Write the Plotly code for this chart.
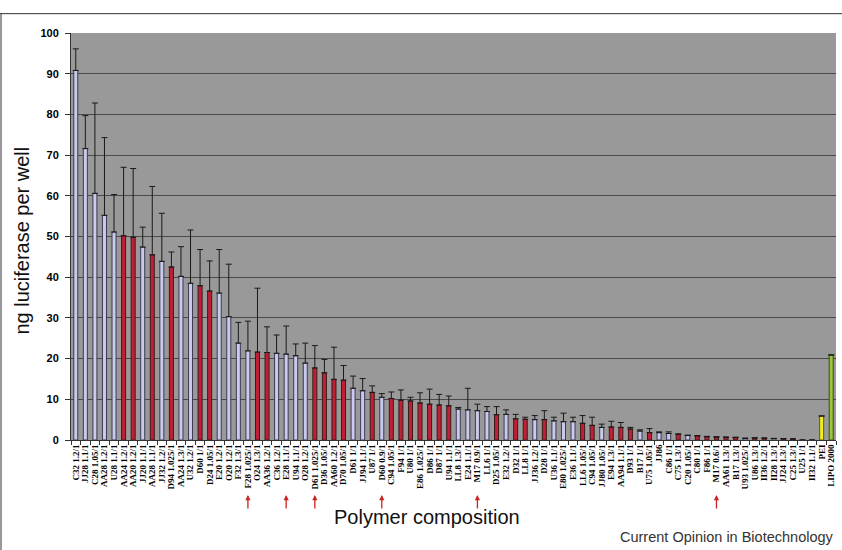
import plotly.graph_objects as go

labels = [
    "C32 1.2/1", "JJ28 1.1/1", "C28 1.05/1", "AA28 1.2/1", "U28 1.1/1",
    "AA24 1.2/1", "AA20 1.2/1", "JJ20 1.1/1", "AA28 1.1/1", "JJ32 1.2/1",
    "D94 1.025/1", "AA24 1.3/1", "U32 1.2/1", "D60 1/1", "D24 1.05/1",
    "E20 1.2/1", "O20 1.2/1", "F32 1.3/1", "F28 1.025/1", "O24 1.3/1",
    "AA36 1.2/1", "C36 1.2/1", "E28 1.1/1", "U94 1.1/1", "O28 1.2/1",
    "D61 1.025/1", "D36 1.05/1", "AA60 1.2/1", "D70 1.05/1", "D61 1/1",
    "JJ94 1.1/1", "U87 1/1", "D60 0.9/1", "C94 1.05/1", "F94 1/1",
    "U80 1/1", "E86 1.025/1", "D86 1/1", "D87 1/1", "U94 1.1/1",
    "LL8 1.3/1", "E24 1.1/1", "M17 0.9/1", "LL6 1/1", "D25 1.05/1",
    "E32 1.2/1", "D32 1/1", "LL8 1/1", "JJ36 1.2/1", "D28 1/1",
    "U36 1.1/1", "E80 1.025/1", "E36 1.1/1", "LL6 1.05/1", "C94 1.05/1",
    "JJ80 1.05/1", "E94 1.3/1", "AA94 1.1/1", "D93 1/1", "B17 1/1",
    "U75 1.05/1", "JJ86", "C86 1/1", "C75 1.3/1", "C20 1.05/1",
    "C80 1/1", "F86 1/1", "M17 0.6/1", "AA61 1.3/1", "B17 1.3/1",
    "U93 1.025/1", "U86 1.3/1", "II36 1.2/1", "II28 1.3/1", "JJ24 1.3/1",
    "C25 1.3/1", "U25 1/1", "II32 1.1/1", "PEI", "LIPO 2000",
]

values = [
    90.8, 71.6, 60.6, 55.2, 51.1, 50.2, 49.8, 47.4, 45.5, 43.9,
    42.5, 40.2, 38.5, 37.9, 36.6, 36.1, 30.3, 23.8, 21.9, 21.6,
    21.5, 21.3, 21.1, 20.7, 18.9, 17.7, 16.5, 14.9, 14.7, 12.7,
    12.1, 11.7, 10.5, 10.2, 9.8, 9.6, 9.1, 8.8, 8.6, 8.4,
    7.6, 7.4, 7.2, 7.0, 6.2, 6.3, 5.2, 5.1, 5.0, 5.0,
    4.7, 4.5, 4.5, 4.1, 3.6, 3.1, 3.2, 3.1, 2.7, 2.2,
    1.8, 1.8, 1.6, 1.4, 1.1, 1.0, 0.8, 0.7, 0.65, 0.6,
    0.4, 0.5, 0.45, 0.35, 0.3, 0.25, 0.0, 0.0, 5.9, 20.9,
]

errors = [
    5.3, 8.1, 22.2, 19.1, 9.2, 16.8, 16.9, 4.9, 16.8, 11.8,
    3.7, 7.3, 13.1, 8.9, 7.4, 10.7, 12.9, 5.1, 7.3, 15.7,
    6.3, 4.5, 6.9, 2.9, 4.9, 5.5, 3.3, 7.9, 3.6, 3.0,
    3.0, 1.6, 0.9, 1.6, 2.5, 0.9, 2.5, 3.7, 2.6, 2.4,
    0.4, 5.3, 1.6, 1.2, 2.0, 1.1, 1.1, 0.5, 1.0, 2.2,
    0.9, 2.1, 1.1, 1.9, 2.0, 0.8, 1.4, 1.2, 0.4, 0.3,
    1.0, 0.2, 0.4, 0.1, 0.1, 0.1, 0.1, 0.1, 0.1, 0.1,
    0.05, 0.05, 0.05, 0.05, 0.05, 0.05, 0.0, 0.0, 0.0, 0.0,
]

# polymer group: A = light bars, B = red bars, P = PEI, L = Lipofectamine
groups = (
    "AAAAABBABA" "BAABBAAAAB" "BAAAABBBBA" "ABABBBBBBB"
    "AAAABABBAB" "AAABBABBBA" "BAABABBBBB" "ABBABBAAPL"
)

arrow_labels_idx = [18, 22, 25, 32, 42, 67]

y_ticks = list(range(0, 101, 10))

color_map = {"A": "#CACAEA", "B": "#C21F36", "P": "#F2EE1E", "L": "#9CC73A"}
line_map = {"A": "#3A3A55", "B": "#3A1A1A", "P": "#555522", "L": "#3A4A1A"}

x = list(range(len(labels)))
fig = go.Figure()
fig.add_trace(go.Bar(
    x=x, y=values,
    marker=dict(color=[color_map[g] for g in groups],
                line=dict(color=[line_map[g] for g in groups], width=1)),
    error_y=dict(type="data", array=errors, symmetric=False,
                 arrayminus=[0] * len(errors),
                 color="#1a1a1a", thickness=1, width=3),
    showlegend=False,
))

annotations = []
for i in arrow_labels_idx:
    annotations.append(dict(
        x=i, y=-0.135, xref="x", yref="paper", text="",
        showarrow=True, ax=0, ay=15, arrowcolor="#CC2222",
        arrowwidth=1.3, arrowhead=2, arrowsize=0.8,
    ))
annotations.append(dict(
    x=-0.064, y=0.49, xref="paper", yref="paper", text="ng luciferase per well",
    textangle=-90, showarrow=False, xanchor="center", yanchor="middle",
    font=dict(family="Liberation Sans, Arial", size=20, color="#111111"),
))
annotations.append(dict(
    x=0.465, y=-0.189, xref="paper", yref="paper", text="Polymer composition",
    showarrow=False, xanchor="center", yanchor="middle",
    font=dict(family="Liberation Sans, Arial", size=20, color="#111111"),
))
annotations.append(dict(
    x=1.0, y=-0.2385, xref="paper", yref="paper",
    text="Current Opinion in Biotechnology",
    showarrow=False, xanchor="right", yanchor="middle",
    font=dict(family="Liberation Sans, Arial", size=14.5, color="#333333"),
))

fig.update_layout(
    width=842, height=550,
    margin=dict(l=71, r=6, t=33, b=110),
    paper_bgcolor="white", plot_bgcolor="#999999",
    bargap=0.58,
    annotations=annotations,
    shapes=[
        dict(type="line", xref="paper", yref="paper", x0=-0.095, x1=1.01,
             y0=1.0475, y1=1.0475, line=dict(color="#333333", width=1)),
        dict(type="line", xref="paper", yref="paper", x0=-0.0915, x1=-0.0915,
             y0=1.0475, y1=-0.28, line=dict(color="#333333", width=1)),
    ],
    xaxis=dict(
        range=[-0.5, len(labels) - 0.5],
        tickmode="array", tickvals=x, ticktext=labels, tickangle=-90,
        ticks="", showgrid=False, zeroline=False,
        showline=True, linecolor="#333333", linewidth=1,
        tickfont=dict(family="Liberation Serif, Times New Roman", size=9,
                      color="#000000", weight="bold"),
        minor=dict(ticks="outside", tick0=-0.5, dtick=1, ticklen=4,
                   tickcolor="#333333", showgrid=False),
    ),
    yaxis=dict(
        range=[0, 100], tickmode="array", tickvals=y_ticks,
        ticks="outside", ticklen=5, tickcolor="#333333",
        showgrid=True, gridcolor="#4a4a4a", gridwidth=1.2,
        zeroline=False, showline=True, linecolor="#333333", linewidth=1,
        ticklabelstandoff=4,
        tickfont=dict(family="Liberation Sans, Arial", size=11,
                      color="#000000", weight="bold"),
    ),
)

fig.write_html(
    "out.html",
    config={"displayModeBar": False},
    post_script="document.body.style.margin='0';document.body.style.overflow='hidden';",
)
